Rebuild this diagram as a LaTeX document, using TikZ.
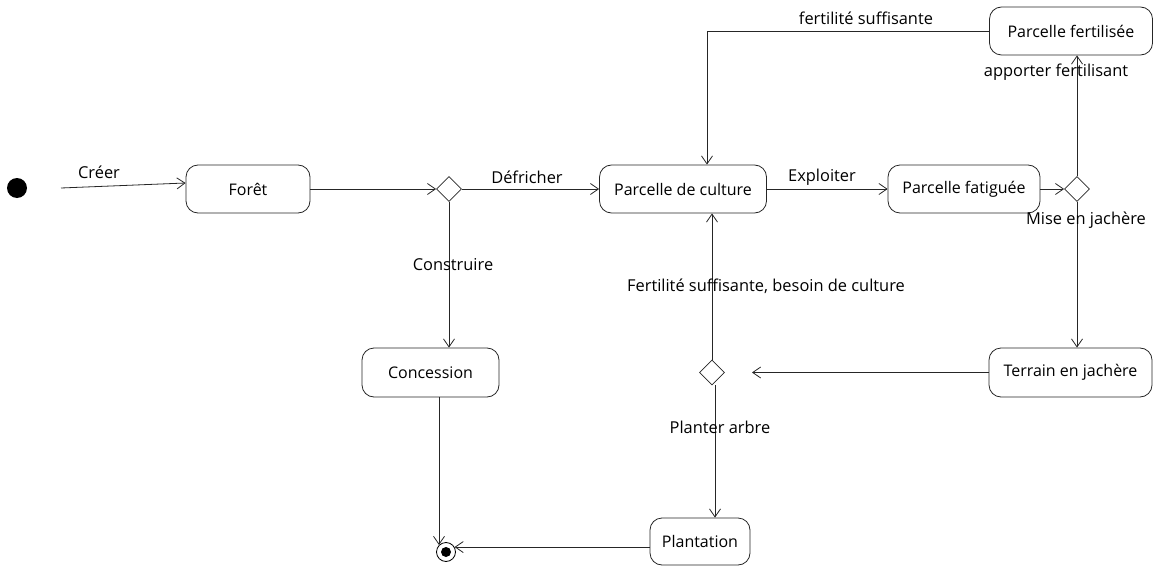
\documentclass[tikz,border=0pt]{standalone}
\usepackage{fontspec}
\setmainfont{Open Sans}
\usetikzlibrary{arrows.meta,shapes.geometric}

\tikzset{
  state/.style={draw=black!85, line width=0.8pt, rounded corners=12pt,
    minimum height=48pt, inner sep=0pt, font=\fontsize{16}{19}\selectfont},
  choice/.style={draw=black!85, line width=0.8pt, diamond, inner sep=0pt,
    minimum width=25pt, minimum height=25pt},
  flow/.style={draw=black!85, line width=0.8pt,
    -{Straight Barb[length=8pt,width=11pt,line width=0.8pt]}},
  lbl/.style={inner sep=0pt, font=\fontsize{16.4}{19}\selectfont}
}

\begin{document}
\begin{tikzpicture}[x=1pt, y=-1pt]
\useasboundingbox (0,0) rectangle (1154,567);

% initial and final pseudo-states
\node[circle, fill=black, minimum size=20pt, inner sep=0pt] (init) at (17,188) {};
\node[circle, draw=black, line width=0.8pt, minimum size=19pt, inner sep=0pt] (final) at (446,552) {};
\node[circle, fill=black, minimum size=10pt, inner sep=0pt] (finaldot) at (446,552) {};

% states
\node[state, minimum width=124pt] (foret) at (248,189) {Forêt};
\node[state, minimum width=167pt] (pc) at (683,189) {Parcelle de culture};
\node[state, minimum width=152pt] (pf) at (964,189) {Parcelle fatiguée};
\node[state, minimum width=163pt] (pfert) at (1071,31) {Parcelle fertilisée};
\node[state, minimum width=163pt, minimum height=49pt] (tj) at (1070.5,372.5) {Terrain en jachère};
\node[state, minimum width=137pt, minimum height=49pt] (conc) at (430.5,372.5) {Concession};
\node[state, minimum width=100pt, minimum height=47pt] (plant) at (700,541.5) {Plantation};

% decision points
\node[choice] (d1) at (449,189) {};
\node[choice] (d2) at (1077,189) {};
\node[choice] (d3) at (712,372.5) {};

% free ends
\coordinate (start) at (61,188);
\coordinate (tjend) at (752,372.5);

% transitions
\draw[flow] (start) -- ([yshift=6pt]foret.west);
\draw[flow] (foret.east) -- (d1.west);
\draw[flow] (d1.east) -- (pc.west);
\draw[flow] (pc.east) -- (pf.west);
\draw[flow] (pf.east) -- (d2.west);
\draw[flow] (d2.north) -- (d2.north |- pfert.south);
\draw[flow] (d2.south) -- (d2.south |- tj.north);
\draw[flow] (tj.west) -- (tjend);
\draw[flow] (d3.north) -- (d3.north |- pc.south);
\draw[flow] ([xshift=3pt]d3.south) -- ([xshift=3pt]d3.south |- plant.north);
\draw[flow] (d1.south) -- (d1.south |- conc.north);
\draw[flow] (final.135 |- conc.south) -- (final.135);
\draw[flow] (final.30 -| plant.west) -- (final.30);
\draw[flow] (pfert.west) -| ([xshift=24pt]pc.north);

% transition labels
\node[lbl] (l1) at (99,172) {Créer};
\node[lbl] (l2) at (527,177) {Défricher};
\node[lbl] (l3) at (822,177) {Exploiter};
\node[lbl] (l4) at (1056,72) {apporter fertilisant};
\node[lbl] (l5) at (1086,220) {Mise en jachère};
\node[lbl] (l6) at (766,286) {Fertilité suffisante, besoin de culture};
\node[lbl] (l7) at (720,427) {Planter arbre};
\node[lbl] (l8) at (453,265) {Construire};
\node[lbl] (l9) at (866,18) {fertilité suffisante};
\end{tikzpicture}
\end{document}
